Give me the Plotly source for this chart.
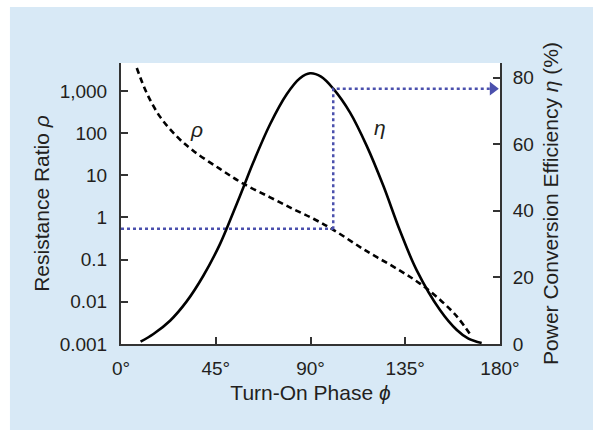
import plotly.graph_objects as go

# efficiency curve eta (%) vs turn-on phase (deg)
eta_phase = [9.3, 15.4, 23.3, 31.2, 39.1, 47.0, 53.3, 58.1, 62.8, 70.8, 78.7,
             85.0, 89.8, 95.0, 100.8, 108.8, 116.7, 124.6, 132.5, 140.4,
             151.5, 159.5, 165.0, 171.3]
eta_values = [0.7, 3.0, 7.0, 12.8, 20.5, 30.0, 39.5, 47.0, 54.5, 66.0, 75.0,
              79.8, 81.3, 80.3, 76.7, 69.5, 59.5, 47.5, 34.0, 22.2,
              10.2, 4.2, 1.6, 0.3]

# resistance ratio rho vs turn-on phase
rho_phase = [7.5, 12.2, 18.5, 26.5, 34.3, 47.0, 58.1, 70.8, 81.8, 91.4,
             100.8, 116.7, 132.5, 142.0, 151.5, 159.5, 166.6]
rho_values = [3470, 890, 245, 83, 38, 14.1, 6.3, 3.0, 1.58, 0.93,
              0.51, 0.158, 0.055, 0.027, 0.0112, 0.0045, 0.0015]

# operating point guide
op_phase = 100.8
op_rho = 0.54
op_eta_low = 34.5
op_eta = 76.7
arrow_phase = 176.6

x_ticks = [0, 45, 90, 135, 180]
x_labels = ["0°", "45°", "90°", "135°", "180°"]
rho_ticks = [0.001, 0.01, 0.1, 1, 10, 100, 1000]
rho_labels = ["0.001", "0.01", "0.1", "1", "10", "100", "1,000"]
eta_ticks = [0, 20, 40, 60, 80]

FONT = "Liberation Sans, Arial, Helvetica, sans-serif"
INK = "#231f20"
GUIDE = "#4b50ad"
PANEL = "#d8e9f6"

fig = go.Figure()

fig.add_trace(go.Scatter(x=rho_phase, y=rho_values, mode="lines",
                         line=dict(color="black", width=2.6, dash="6px,4px", shape="spline"),
                         yaxis="y"))
fig.add_trace(go.Scatter(x=eta_phase, y=eta_values, mode="lines",
                         line=dict(color="black", width=2.6, shape="spline"),
                         yaxis="y2"))

# dotted guide lines
fig.add_trace(go.Scatter(x=[0, op_phase], y=[op_rho, op_rho], mode="lines",
                         line=dict(color=GUIDE, width=2.5, dash="dot"), yaxis="y"))
fig.add_trace(go.Scatter(x=[op_phase, op_phase, arrow_phase], y=[op_eta_low, op_eta, op_eta],
                         mode="lines", line=dict(color=GUIDE, width=2.5, dash="dot"),
                         yaxis="y2"))
fig.add_trace(go.Scatter(x=[arrow_phase], y=[op_eta], mode="markers",
                         marker=dict(symbol="triangle-right", size=12, color=GUIDE),
                         yaxis="y2"))

# white strips left and top of the light blue panel
fig.add_shape(type="rect", xref="paper", yref="paper", x0=-0.4, x1=-0.293, y0=-0.4, y1=1.4,
              fillcolor="white", line=dict(width=0), layer="below")
fig.add_shape(type="rect", xref="paper", yref="paper", x0=-0.4, x1=1.4, y0=1.199, y1=1.4,
              fillcolor="white", line=dict(width=0), layer="below")

fig.add_annotation(x=36, y=2.08, xref="x", yref="y", text="<i>ρ</i>", showarrow=False,
                   font=dict(size=21, color=INK, family=FONT))
fig.add_annotation(x=123, y=65, xref="x", yref="y2", text="<i>η</i>", showarrow=False,
                   font=dict(size=21, color=INK, family=FONT))

axis_common = dict(showgrid=False, zeroline=False, ticks="inside", ticklen=7, tickwidth=1.5,
                   tickcolor="#333", showline=True, linecolor="#333", linewidth=2,
                   automargin=False,
                   tickfont=dict(size=19, color=INK, family=FONT))

fig.update_layout(
    width=593, height=430,
    margin=dict(l=121, r=93, t=63, b=86),
    paper_bgcolor=PANEL, plot_bgcolor="white",
    showlegend=False,
    font=dict(family=FONT, color=INK, size=19),
    xaxis=dict(range=[0, 180], tickvals=x_ticks, ticktext=x_labels, ticklabelstandoff=6,
               title=dict(text="Turn-On Phase <i>ϕ</i>", standoff=8,
                          font=dict(size=21, color=INK, family=FONT)),
               **axis_common),
    yaxis=dict(type="log", range=[-3, 3.66], tickvals=rho_ticks, ticktext=rho_labels,
               ticklabelstandoff=8,
               title=dict(text="Resistance Ratio <i>ρ</i>", standoff=4,
                          font=dict(size=21, color=INK, family=FONT)),
               **axis_common),
    yaxis2=dict(overlaying="y", side="right", range=[0, 84.4], tickvals=eta_ticks,
                ticklabelstandoff=7,
                title=dict(text="Power Conversion Efficiency <i>η</i> (%)", standoff=10,
                           font=dict(size=21, color=INK, family=FONT)),
                **axis_common),
)

page_js = ("document.body.style.margin='0';"
           "document.body.style.background='%s';"
           "document.documentElement.style.background='%s';" % (PANEL, PANEL))
fig.write_html("out.html", config={"displayModeBar": False}, post_script=page_js)
